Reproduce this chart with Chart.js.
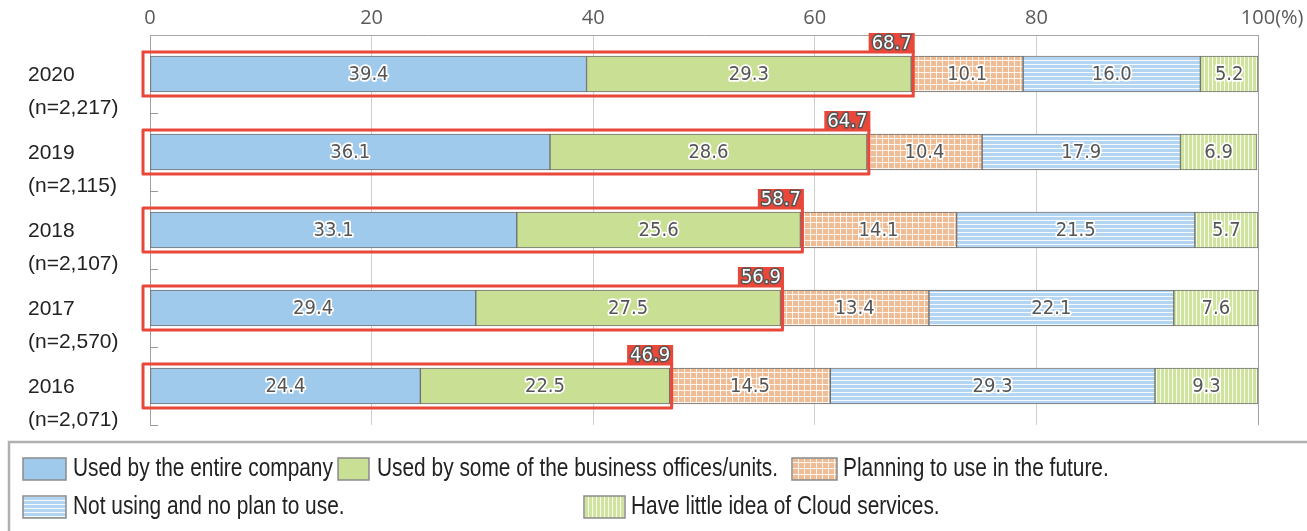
<!DOCTYPE html>
<html>
<head>
<meta charset="utf-8">
<script src="https://cdn.jsdelivr.net/npm/chart.js@4/dist/chart.umd.min.js"></script>
<style>
  html, body { margin: 0; padding: 0; background: #fff; }
  #wrap { width: 1307px; height: 531px; position: relative; }
</style>
</head>
<body>
<div id="wrap"><canvas id="cloudChart"></canvas></div>
<script>
// values
const years = ['2020', '2019', '2018', '2017', '2016'];
const samples = ['(n=2,217)', '(n=2,115)', '(n=2,107)', '(n=2,570)', '(n=2,071)'];
const entireCompany = [39.4, 36.1, 33.1, 29.4, 24.4];
const someOffices = [29.3, 28.6, 25.6, 27.5, 22.5];
const planning = [10.1, 10.4, 14.1, 13.4, 14.5];
const notUsing = [16.0, 17.9, 21.5, 22.1, 29.3];
const littleIdea = [5.2, 6.9, 5.7, 7.6, 9.3];
const usingTotal = [68.7, 64.7, 58.7, 56.9, 46.9];
const xTicks = [0, 20, 40, 60, 80, 100];
const seriesNames = [
    'Used by the entire company',
    'Used by some of the business offices/units.',
    'Planning to use in the future.',
    'Not using and no plan to use.',
    'Have little idea of Cloud services.'
];

const LABEL_FONT = '"DejaVu Sans Condensed", "DejaVu Sans", sans-serif';

function makePattern(size, bg, drawLines) {
    const c = document.createElement('canvas');
    c.width = size; c.height = size;
    const g = c.getContext('2d');
    g.fillStyle = bg;
    g.fillRect(0, 0, size, size);
    g.fillStyle = 'rgba(255,255,255,0.85)';
    drawLines(g, size);
    return g.createPattern(c, 'repeat');
}

const checkOrange = makePattern(6, '#efbd95', (g, s) => { g.fillRect(0, 0, s, 1); g.fillRect(0, 0, 1, s); });
const stripeBlue = makePattern(4, '#b3d5f1', (g, s) => { g.fillRect(0, 0, s, 1); });
const stripeGreen = makePattern(4, '#d0e4a0', (g, s) => { g.fillRect(0, 0, 1, s); });

const fills = ['#9fcaec', '#c8df94', checkOrange, stripeBlue, stripeGreen];
const seriesValues = [entireCompany, someOffices, planning, notUsing, littleIdea];

// labels, red boxes, y labels, x labels and the legend
const overlayPlugin = {
    id: 'overlay',
    afterDatasetsDraw(chart) {
        const ctx = chart.ctx;
        const xs = chart.scales.x;
        const ys = chart.scales.y;
        const area = chart.chartArea;

        // small ticks between categories on the left axis
        ctx.save();
        ctx.strokeStyle = '#999';
        ctx.lineWidth = 1;
        for (let i = 0; i < years.length; i++) {
            const yb = i < years.length - 1 ? (ys.getPixelForValue(i) + ys.getPixelForValue(i + 1)) / 2 : area.bottom - 0.5;
            ctx.beginPath();
            ctx.moveTo(area.left, Math.round(yb) + 0.5);
            ctx.lineTo(area.left + 8, Math.round(yb) + 0.5);
            ctx.stroke();
        }
        ctx.restore();

        // values inside segments
        ctx.save();
        ctx.font = '20px ' + LABEL_FONT;
        ctx.textAlign = 'center';
        ctx.textBaseline = 'middle';
        ctx.lineJoin = 'round';
        chart.data.datasets.forEach((ds, di) => {
            const meta = chart.getDatasetMeta(di);
            meta.data.forEach((el, j) => {
                const cx = (el.x + el.base) / 2;
                const txt = ds.data[j].toFixed(1);
                ctx.lineWidth = 3.5;
                ctx.strokeStyle = '#fff';
                ctx.strokeText(txt, cx, el.y + 1);
                ctx.fillStyle = '#555';
                ctx.fillText(txt, cx, el.y + 1);
            });
        });
        ctx.restore();

        // red outlines round the "using" part
        ctx.save();
        const meta1 = chart.getDatasetMeta(1);
        meta1.data.forEach((el, j) => {
            const left = xs.getPixelForValue(0) - 7;
            const right = el.x + 2;
            const top = el.y - el.height / 2 - 4;
            const bottom = el.y + el.height / 2 + 4;
            ctx.strokeStyle = '#e8473a';
            ctx.lineWidth = 3;
            ctx.strokeRect(left, top, right - left, bottom - top);

            ctx.font = '20px ' + LABEL_FONT;
            const txt = usingTotal[j].toFixed(1);
            const w = ctx.measureText(txt).width + 6;
            const h = 20;
            ctx.fillStyle = '#e8473a';
            ctx.fillRect(right + 1.5 - w, top - h + 1, w, h);
            ctx.textAlign = 'center';
            ctx.textBaseline = 'middle';
            ctx.lineJoin = 'round';
            ctx.lineWidth = 3;
            ctx.strokeStyle = '#555';
            ctx.strokeText(txt, right + 1.5 - w / 2, top - h / 2 + 2);
            ctx.fillStyle = '#fff';
            ctx.fillText(txt, right + 1.5 - w / 2, top - h / 2 + 2);
        });
        ctx.restore();
    },
    afterDraw(chart) {
        const ctx = chart.ctx;
        const xs = chart.scales.x;
        const ys = chart.scales.y;

        // year labels
        ctx.save();
        ctx.font = '21px "Liberation Sans", Arial, sans-serif';
        ctx.fillStyle = '#222';
        ctx.textAlign = 'left';
        ctx.textBaseline = 'middle';
        years.forEach((yr, j) => {
            const y = ys.getPixelForValue(j);
            ctx.fillText(yr, 28, y + 1);
            ctx.fillText(samples[j], 28, y + 34);
        });
        ctx.restore();

        // x tick labels on top
        ctx.save();
        ctx.font = '20px "Open Sans", sans-serif';
        ctx.fillStyle = '#5a5a5a';
        ctx.textBaseline = 'middle';
        xTicks.forEach(v => {
            const x = xs.getPixelForValue(v);
            const s = String(v);
            const w = ctx.measureText(s).width;
            ctx.textAlign = 'left';
            ctx.fillText(s, x - w / 2, 18);
            if (v === 100) ctx.fillText('(%)', x + w / 2, 18);
        });
        ctx.restore();

        // legend box
        ctx.save();
        ctx.strokeStyle = '#b0b0b0';
        ctx.lineWidth = 2.5;
        ctx.strokeRect(9, 442, 1310, 100);
        const items = [
            { sx: 23, sw: 43, y: 458, tx: 73 },
            { sx: 338, sw: 31, y: 458, tx: 377 },
            { sx: 792, sw: 45, y: 458, tx: 843 },
            { sx: 23, sw: 43, y: 496, tx: 73 },
            { sx: 584, sw: 41, y: 496, tx: 631 }
        ];
        items.forEach((it, i) => {
            ctx.fillStyle = fills[i];
            ctx.fillRect(it.sx, it.y, it.sw, 22);
            ctx.strokeStyle = '#8a8a8a';
            ctx.lineWidth = 1.5;
            ctx.strokeRect(it.sx, it.y, it.sw, 22);
            // the legend text in the picture is a narrow face: squeeze it
            ctx.save();
            ctx.translate(it.tx, it.y + 11);
            ctx.scale(0.835, 1);
            ctx.font = '25px "Liberation Sans", Arial, sans-serif';
            ctx.fillStyle = '#222';
            ctx.textAlign = 'left';
            ctx.textBaseline = 'middle';
            ctx.fillText(seriesNames[i], 0, 0);
            ctx.restore();
        });
        ctx.restore();
    }
};

new Chart(document.getElementById('cloudChart'), {
    type: 'bar',
    data: {
        labels: years,
        datasets: seriesValues.map((vals, i) => ({
            label: seriesNames[i],
            data: vals,
            backgroundColor: fills[i],
            borderColor: '#6f6f6f',
            borderWidth: 1,
            borderSkipped: false,
            barThickness: 36
        }))
    },
    options: {
        indexAxis: 'y',
        responsive: true,
        maintainAspectRatio: false,
        animation: false,
        layout: { padding: { left: 150, right: 49, top: 35, bottom: 106 } },
        plugins: {
            legend: { display: false },
            tooltip: { enabled: false }
        },
        scales: {
            x: {
                position: 'top',
                stacked: true,
                min: 0,
                max: 100,
                afterBuildTicks: (scale) => { scale.ticks = xTicks.map(v => ({ value: v })); },
                ticks: { display: false },
                grid: {
                    drawTicks: false,
                    color: (c) => (c.tick && (c.tick.value === 0 || c.tick.value === 100)) ? '#a0a0a0' : '#cfcfcf',
                    lineWidth: 1
                },
                border: { display: true, color: '#a8a8a8', width: 1 }
            },
            y: {
                stacked: true,
                display: false
            }
        }
    },
    plugins: [overlayPlugin]
});
</script>
</body>
</html>
